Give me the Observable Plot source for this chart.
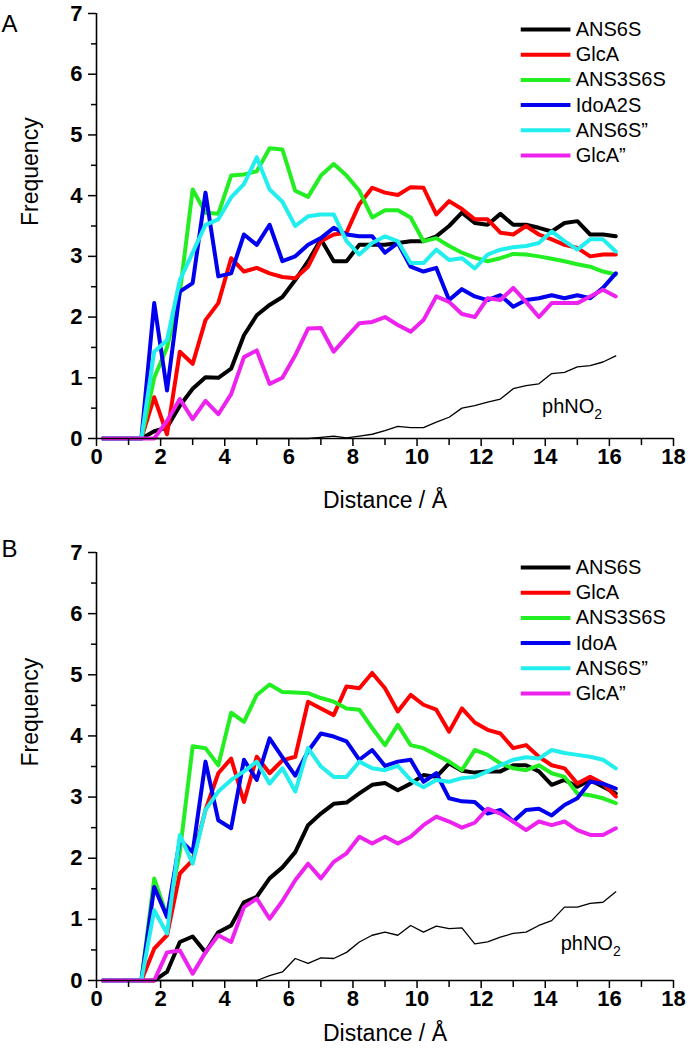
<!DOCTYPE html>
<html><head><meta charset="utf-8">
<script src="https://cdn.jsdelivr.net/npm/d3@7"></script>
<script src="https://cdn.jsdelivr.net/npm/@observablehq/plot@0.6"></script>
<style>
body{margin:0;background:#fff;}
#chart{width:691px;height:1050px;}
#chart svg{display:block;}
#chart text.bold{font-weight:700;}
</style></head><body><div id="chart"></div>
<script>
// Distance (Å) sample positions
const distance = [0.2,0.6,1.0,1.4,1.8,2.2,2.6,3.0,3.4,3.8,4.2,4.6,5.0,5.4,5.8,6.2,6.6,7.0,7.4,7.8,8.2,8.6,9.0,9.4,9.8,10.2,10.6,11.0,11.4,11.8,12.2,12.6,13.0,13.4,13.8,14.2,14.6,15.0,15.4,15.8,16.2];

const xTicks = [0,2,4,6,8,10,12,14,16,18];
const xMinorTicks = [1,3,5,7,9,11,13,15,17];
const yTicks = [0,1,2,3,4,5,6,7];
const yMinorTicks = [0.5,1.5,2.5,3.5,4.5,5.5,6.5];

const namesA = ["ANS6S","GlcA","ANS3S6S","IdoA2S","ANS6S\u201D","GlcA\u201D"];
const namesB = ["ANS6S","GlcA","ANS3S6S","IdoA","ANS6S\u201D","GlcA\u201D"];
const phLabel = "phNO2";

// Panel A
const aANS6S   = [0,0,0,0,0.12,0.18,0.54,0.82,1.01,1.0,1.15,1.70,2.03,2.2,2.33,2.61,2.92,3.28,2.92,2.92,3.19,3.19,3.19,3.22,3.25,3.25,3.33,3.5,3.72,3.55,3.52,3.70,3.52,3.52,3.47,3.41,3.55,3.58,3.36,3.36,3.33];
const aGlcA    = [0,0,0,0,0.68,0.07,1.43,1.23,1.95,2.23,2.97,2.75,2.81,2.72,2.66,2.64,2.83,3.25,3.36,3.39,3.86,4.13,4.05,4.01,4.14,4.13,3.69,3.91,3.78,3.61,3.61,3.39,3.36,3.50,3.36,3.28,3.19,3.14,3.0,3.03,3.03];
const aANS3S6S = [0,0,0,0,1.0,1.5,2.4,4.1,3.72,3.7,4.33,4.35,4.4,4.78,4.76,4.08,3.98,4.33,4.52,4.33,4.08,3.64,3.76,3.76,3.64,3.25,3.30,3.17,3.06,2.98,2.92,2.97,3.04,3.03,3.0,2.96,2.92,2.87,2.83,2.75,2.70];
const aIdoA2S  = [0,0,0,0,2.23,0.79,2.42,2.56,4.05,2.67,2.72,3.36,3.19,3.52,2.92,3.0,3.19,3.30,3.47,3.36,3.33,3.33,3.06,3.22,2.83,2.75,2.81,2.28,2.46,2.34,2.28,2.36,2.17,2.28,2.31,2.36,2.31,2.36,2.31,2.48,2.72];
const aANS6Spp = [0,0,0,0,1.43,1.62,2.61,3.06,3.52,3.61,3.97,4.19,4.63,4.10,3.9,3.50,3.66,3.69,3.69,3.25,3.03,3.22,3.33,3.25,2.89,2.89,3.11,2.94,2.97,2.80,3.03,3.11,3.15,3.17,3.22,3.41,3.25,3.11,3.28,3.28,3.08];
const aGlcApp  = [0,0,0,0,0,0.29,0.65,0.32,0.62,0.40,0.73,1.34,1.45,0.90,1.0,1.37,1.81,1.82,1.43,1.67,1.90,1.92,2.0,1.87,1.76,1.95,2.34,2.25,2.05,2.0,2.31,2.28,2.48,2.25,2.0,2.23,2.23,2.23,2.34,2.45,2.34];
const aPhNO2   = [0,0,0,0,0,0,0,0,0,0,0,0,0,0,0,0,0,0.02,0.04,0.01,0.04,0.07,0.13,0.2,0.18,0.18,0.27,0.35,0.5,0.54,0.6,0.65,0.82,0.87,0.9,1.07,1.09,1.18,1.2,1.26,1.36];

// Panel B
const bANS6S   = [0,0,0,0,0,0.14,0.63,0.72,0.46,0.79,0.9,1.28,1.37,1.67,1.85,2.10,2.54,2.73,2.89,2.91,3.06,3.20,3.23,3.11,3.22,3.36,3.33,3.55,3.43,3.40,3.42,3.42,3.52,3.52,3.42,3.20,3.28,3.17,3.28,3.17,3.06];
const bGlcA    = [0,0,0,0,0.52,0.74,1.75,1.97,2.79,3.39,3.63,2.92,3.66,3.39,3.60,3.66,4.56,4.45,4.34,4.81,4.78,5.03,4.78,4.40,4.67,4.51,4.43,4.07,4.45,4.22,4.10,4.04,3.80,3.85,3.66,3.52,3.47,3.22,3.33,3.22,3.01];
const bANS3S6S = [0,0,0,0,1.67,1.04,2.1,3.83,3.80,3.52,4.38,4.23,4.67,4.84,4.72,4.71,4.70,4.62,4.56,4.45,4.43,4.13,3.85,4.18,3.85,3.80,3.69,3.58,3.44,3.77,3.69,3.55,3.47,3.44,3.52,3.39,3.33,3.06,3.03,2.98,2.90];
const bIdoA    = [0,0,0,0,1.53,1.04,2.3,2.1,3.58,2.62,2.49,3.61,3.28,3.96,3.65,3.35,3.75,4.04,3.99,3.91,3.61,3.77,3.51,3.58,3.61,3.25,3.39,2.98,2.93,2.92,2.73,2.79,2.60,2.79,2.81,2.70,2.87,2.98,3.25,3.22,3.14];
const bANS6Spp = [0,0,0,0,1.15,0.77,2.38,1.91,2.79,3.09,3.28,3.42,3.58,3.22,3.47,3.09,3.80,3.50,3.33,3.33,3.58,3.47,3.44,3.51,3.28,3.16,3.28,3.25,3.31,3.33,3.42,3.52,3.61,3.65,3.63,3.77,3.72,3.69,3.66,3.61,3.47];
const bGlcApp  = [0,0,0,0,0,0.46,0.49,0.11,0.46,0.74,0.63,1.20,1.34,1.01,1.3,1.64,1.91,1.67,1.94,2.08,2.35,2.24,2.35,2.24,2.35,2.54,2.68,2.60,2.50,2.58,2.81,2.73,2.60,2.46,2.60,2.54,2.60,2.46,2.38,2.38,2.49];
const bPhNO2   = [0,0,0,0,0,0,0,0,0,0,0,0,0,0.08,0.14,0.36,0.28,0.37,0.36,0.46,0.63,0.74,0.79,0.74,0.9,0.79,0.89,0.85,0.86,0.6,0.63,0.71,0.77,0.79,0.90,0.98,1.20,1.20,1.26,1.28,1.45];

const colors = ["#000000","#ff0000","#22ee22","#0000ee","#22eeee","#ee22ee"];
const FONT = "'Liberation Sans', Arial, Helvetica, sans-serif";

function panel(cfg) {
  const W = 691, H = 525;
  const plotH = H - cfg.marginTop - cfg.marginBottom;
  const ppu = plotH / 7;
  const marks = [];
  // phNO2 thin line
  marks.push(Plot.line(distance.map((x, i) => ({x, y: cfg.ph[i]})), {x: "x", y: "y", stroke: "#000", strokeWidth: 1.3}));
  cfg.series.forEach((vals, k) => {
    marks.push(Plot.line(distance.map((x, i) => ({x, y: vals[i]})), {x: "x", y: "y", stroke: colors[k], strokeWidth: 4, strokeLinejoin: "round"}));
  });
  // axes lines and ticks
  marks.push(Plot.ruleY([0], {stroke: "#000", strokeWidth: 1.6}));
  marks.push(Plot.ruleX([0], {stroke: "#000", strokeWidth: 1.6}));
  marks.push(Plot.axisX({ticks: xTicks, tickSize: 8, tickFormat: () => "", label: null, strokeWidth: 1.5}));
  marks.push(Plot.axisX({ticks: xMinorTicks, tickSize: 7, tickFormat: () => "", label: null, strokeWidth: 1.5}));
  marks.push(Plot.axisY({ticks: yTicks, tickSize: 8, tickFormat: () => "", label: null, strokeWidth: 1.5}));
  marks.push(Plot.axisY({ticks: yMinorTicks, tickSize: 5, tickFormat: () => "", label: null, strokeWidth: 1.5}));
  // bold tick labels
  marks.push(Plot.text(xTicks, {x: d => d, frameAnchor: "bottom", dy: 25, text: d => String(d), fontSize: 22, fontWeight: "bold", className: "bold"}));
  marks.push(Plot.text(yTicks, {y: d => d, frameAnchor: "left", dx: -14, textAnchor: "end", text: d => String(d), fontSize: 22, fontWeight: "bold", className: "bold"}));
  // axis titles
  marks.push(Plot.text(["Frequency"], {frameAnchor: "left", dx: -66, rotate: -90, fontSize: 23, text: d => d}));
  marks.push(Plot.text(["Distance / \u00C5"], {frameAnchor: "bottom", dy: cfg.xLabelDy, fontSize: 23, text: d => d}));
  // panel letter
  marks.push(Plot.text([cfg.letter], {frameAnchor: "top-left", dx: -95, dy: cfg.letterDy, textAnchor: "start", fontSize: 24, text: d => d}));
  // legend
  cfg.names.forEach((name, k) => {
    const yv = 7 - (cfg.legendTop - cfg.marginTop + k * 25.2) / ppu;
    marks.push(Plot.ruleY([yv], {x1: 13.25, x2: 14.8, stroke: colors[k], strokeWidth: 4}));
    marks.push(Plot.text([name], {x: 14.95, y: yv, text: d => d, textAnchor: "start", fontSize: 20}));
  });
  // phNO2 label
  marks.push(Plot.text([phLabel], {x: cfg.phX, y: cfg.phY, text: d => d, textAnchor: "start", fontSize: 20}));

  const svg = Plot.plot({
    width: W, height: H,
    marginLeft: 96, marginRight: 18, marginTop: cfg.marginTop, marginBottom: cfg.marginBottom,
    x: {domain: [0, 18]},
    y: {domain: [0, 7]},
    style: {fontFamily: FONT, background: "#fff", color: "#000", overflow: "visible"},
    marks
  });
  svg.querySelectorAll("g.bold text, text.bold").forEach(t => {
    t.setAttribute("font-weight", "bold");
    t.style.fontWeight = "700";
  });
  svg.querySelectorAll("text").forEach(t => {
    if (t.textContent === phLabel) {
      const target = t.querySelector("tspan") || t;
      target.textContent = "phNO";
      const sub = document.createElementNS("http://www.w3.org/2000/svg", "tspan");
      sub.setAttribute("dy", "6");
      sub.setAttribute("font-size", "14");
      sub.textContent = "2";
      t.appendChild(sub);
    }
  });
  return svg;
}

const chart = document.getElementById("chart");
chart.appendChild(panel({
  letter: "A", names: namesA,
  series: [aANS6S, aGlcA, aANS3S6S, aIdoA2S, aANS6Spp, aGlcApp], ph: aPhNO2,
  marginTop: 13, marginBottom: 87, legendTop: 29, phX: 13.9, phY: 0.53, xLabelDy: 69, letterDy: 1
}));
chart.appendChild(panel({
  letter: "B", names: namesB,
  series: [bANS6S, bGlcA, bANS3S6S, bIdoA, bANS6Spp, bGlcApp], ph: bPhNO2,
  marginTop: 27, marginBottom: 70, legendTop: 42, phX: 14.48, phY: 0.6, xLabelDy: 60, letterDy: -13
}));
</script></body></html>
